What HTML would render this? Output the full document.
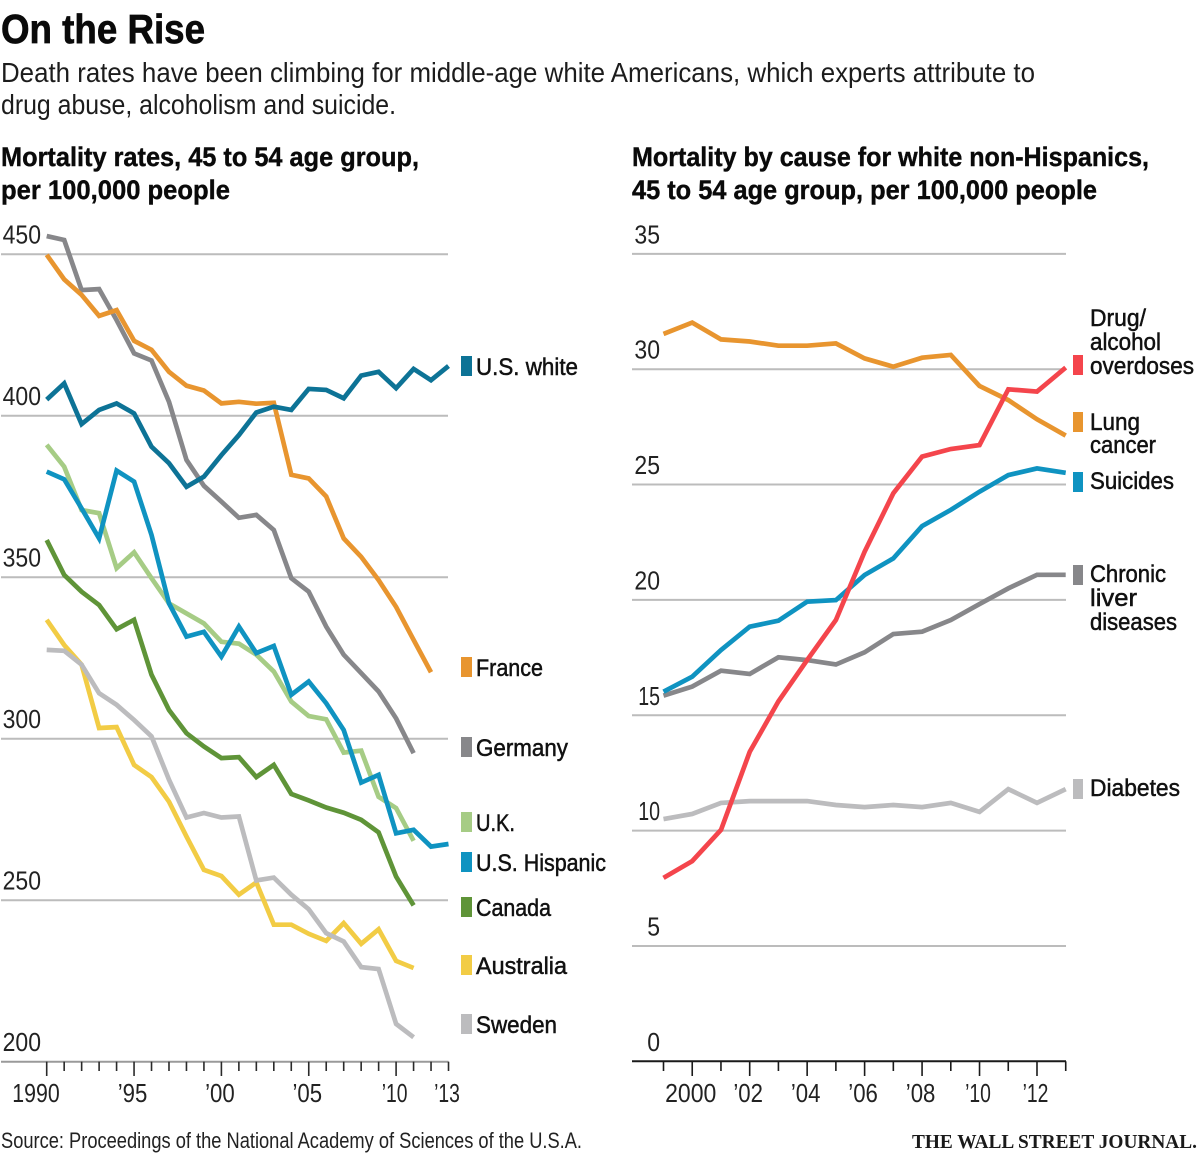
<!DOCTYPE html>
<html lang="en">
<head>
<meta charset="utf-8">
<title>On the Rise</title>
<style>
html,body{margin:0;padding:0;background:#fff;width:1200px;height:1154px;overflow:hidden}
svg{display:block}
text{font-family:"Liberation Sans",sans-serif;fill:#111}
.title{font-size:41px;font-weight:700;fill:#0a0a0a;stroke:#0a0a0a;stroke-width:.7px}
.sub{font-size:28px;fill:#1c1c1c}
.head{font-size:27px;font-weight:700;fill:#0a0a0a;stroke:#0a0a0a;stroke-width:.4px}
.tick{font-size:26px;fill:#222}
.leg{font-size:24px;fill:#111;stroke:#111;stroke-width:.5px}
.src{font-size:22px;fill:#222}
.wsj{font-family:"Liberation Serif",serif;font-size:20px;font-weight:700;fill:#1a1a1a}
</style>
</head>
<body>
<svg id="chart" xmlns="http://www.w3.org/2000/svg" width="1200" height="1154" viewBox="0 0 1200 1154">
  <text class="title" x="1" y="43" textLength="204" lengthAdjust="spacingAndGlyphs">On the Rise</text>
  <text class="sub" x="1" y="82" textLength="1034" lengthAdjust="spacingAndGlyphs">Death rates have been climbing for middle-age white Americans, which experts attribute to</text>
  <text class="sub" x="1" y="114" textLength="395" lengthAdjust="spacingAndGlyphs">drug abuse, alcoholism and suicide.</text>
  <text class="head" x="1" y="166" textLength="418" lengthAdjust="spacingAndGlyphs">Mortality rates, 45 to 54 age group,</text>
  <text class="head" x="1" y="199" textLength="229" lengthAdjust="spacingAndGlyphs">per 100,000 people</text>
  <text class="head" x="632" y="166" textLength="517" lengthAdjust="spacingAndGlyphs">Mortality by cause for white non-Hispanics,</text>
  <text class="head" x="632" y="199" textLength="465" lengthAdjust="spacingAndGlyphs">45 to 54 age group, per 100,000 people</text>

  <g id="left-grid"></g>
  <g id="right-grid"></g>
  <g id="left-lines"></g>
  <g id="right-lines"></g>
  <g id="left-axis"></g>
  <g id="right-axis"></g>

  <g>
    <rect x="461" y="356" width="11" height="20" fill="#0d7396"/>
    <text class="leg" x="476" y="375" textLength="102" lengthAdjust="spacingAndGlyphs">U.S. white</text>
    <rect x="461" y="657" width="11" height="20" fill="#e8952f"/>
    <text class="leg" x="476" y="676" textLength="67" lengthAdjust="spacingAndGlyphs">France</text>
    <rect x="461" y="737" width="11" height="20" fill="#87878a"/>
    <text class="leg" x="476" y="756" textLength="92" lengthAdjust="spacingAndGlyphs">Germany</text>
    <rect x="461" y="812" width="11" height="20" fill="#a6cc85"/>
    <text class="leg" x="476" y="831" textLength="39" lengthAdjust="spacingAndGlyphs">U.K.</text>
    <rect x="461" y="852" width="11" height="20" fill="#0f93c1"/>
    <text class="leg" x="476" y="871" textLength="130" lengthAdjust="spacingAndGlyphs">U.S. Hispanic</text>
    <rect x="461" y="897" width="11" height="20" fill="#5f9438"/>
    <text class="leg" x="476" y="916" textLength="75" lengthAdjust="spacingAndGlyphs">Canada</text>
    <rect x="461" y="955" width="11" height="20" fill="#f2cc45"/>
    <text class="leg" x="476" y="974" textLength="91" lengthAdjust="spacingAndGlyphs">Australia</text>
    <rect x="461" y="1014" width="11" height="20" fill="#bcbcbe"/>
    <text class="leg" x="476" y="1033" textLength="81" lengthAdjust="spacingAndGlyphs">Sweden</text>
  </g>

  <g>
    <rect x="1073" y="355" width="10" height="20" fill="#f4454c"/>
    <text class="leg" x="1090" y="326" textLength="56" lengthAdjust="spacingAndGlyphs">Drug/</text>
    <text class="leg" x="1090" y="350" textLength="71" lengthAdjust="spacingAndGlyphs">alcohol</text>
    <text class="leg" x="1090" y="374" textLength="104" lengthAdjust="spacingAndGlyphs">overdoses</text>
    <rect x="1073" y="412" width="10" height="20" fill="#e8952f"/>
    <text class="leg" x="1090" y="430" textLength="50" lengthAdjust="spacingAndGlyphs">Lung</text>
    <text class="leg" x="1090" y="453" textLength="66" lengthAdjust="spacingAndGlyphs">cancer</text>
    <rect x="1073" y="472" width="10" height="20" fill="#0f93c1"/>
    <text class="leg" x="1090" y="489" textLength="84" lengthAdjust="spacingAndGlyphs">Suicides</text>
    <rect x="1073" y="565" width="10" height="20" fill="#87878a"/>
    <text class="leg" x="1090" y="582" textLength="76" lengthAdjust="spacingAndGlyphs">Chronic</text>
    <text class="leg" x="1090" y="606" textLength="47" lengthAdjust="spacingAndGlyphs">liver</text>
    <text class="leg" x="1090" y="630" textLength="87" lengthAdjust="spacingAndGlyphs">diseases</text>
    <rect x="1073" y="779" width="10" height="20" fill="#bcbcbe"/>
    <text class="leg" x="1090" y="796" textLength="90" lengthAdjust="spacingAndGlyphs">Diabetes</text>
  </g>

  <text class="src" x="1" y="1148" textLength="581" lengthAdjust="spacingAndGlyphs">Source: Proceedings of the National Academy of Sciences of the U.S.A.</text>
  <text class="wsj" x="912" y="1148" textLength="285" lengthAdjust="spacingAndGlyphs">THE WALL STREET JOURNAL.</text>
</svg>
<script>
const leftStartYear = 1990;
const leftYTicks = [200, 250, 300, 350, 400, 450];
const leftXLabels = ["1990", "’95", "’00", "’05", "’10", "’13"];
const leftXLabelYears = [1990, 1995, 2000, 2005, 2010, 2013];
const leftMajorYears = [1990, 1995, 2000, 2005, 2010];

const uk = [391, 384.2, 370.8, 369.8, 352.8, 357.7, 349.7, 341.9, 338.8, 335.7, 330, 329.4, 326, 320.8, 311.5, 307, 306, 295.7, 296.3, 282, 278.5, 268.4];
const usHispanic = [382.7, 380.3, 371.3, 362, 383, 379.6, 363.1, 341.9, 331.6, 333.1, 325.4, 334.7, 326.5, 328.7, 313.6, 317.7, 311, 302.7, 286.4, 288.8, 270.7, 271.8, 266.6, 267.4];
const canada = [361.5, 350.7, 345.5, 341.4, 333.9, 336.8, 319.8, 308.9, 301.7, 297.6, 294, 294.3, 288.1, 291.9, 282.9, 280.9, 278.7, 277.1, 274.9, 271, 257.3, 248.4];
const australia = [336.8, 329, 322.9, 303.3, 303.6, 291.9, 288.1, 280.5, 269.7, 259.4, 257.5, 251.7, 255.5, 242.4, 242.4, 239.6, 237.4, 242.9, 236.5, 241, 231.2, 229];
const sweden = [327.5, 327.2, 322.9, 314.1, 310.5, 305.8, 300.7, 287.3, 275.6, 277, 275.6, 275.9, 256.1, 257, 251.7, 247.2, 239.8, 237.2, 229.3, 228.7, 211.7, 207.6];
const germany = [455.6, 454.4, 438.9, 439.2, 429.6, 419.3, 417.1, 404.3, 386.3, 378.3, 373.4, 368.4, 369.3, 364.6, 349.7, 345.5, 334.7, 326, 320.3, 314.6, 306.3, 295.5];
const france = [449.8, 442.2, 437.4, 430.9, 432.7, 423.2, 420.4, 413.6, 409.3, 407.8, 403.8, 404.3, 403.7, 404, 381.7, 380.6, 375, 362, 356.3, 349.1, 340.8, 330.6, 320.6];
const usWhite = [405, 410, 397.4, 401.8, 403.8, 400.7, 390.4, 385.3, 378, 381.1, 387.8, 394, 401, 402.8, 401.8, 408.3, 408, 405.4, 412.4, 413.6, 408.5, 414.5, 411, 415.4];

const rightStartYear = 1999;
const rightYTicks = [0, 5, 10, 15, 20, 25, 30, 35];
const rightXLabels = ["2000", "’02", "’04", "’06", "’08", "’10", "’12"];
const rightXLabelYears = [2000, 2002, 2004, 2006, 2008, 2010, 2012];

const lungCancer = [31.53, 32.02, 31.29, 31.2, 31.02, 31.02, 31.12, 30.47, 30.11, 30.5, 30.62, 29.27, 28.66, 27.83, 27.12];
const liverDiseases = [15.85, 16.24, 16.93, 16.79, 17.51, 17.39, 17.2, 17.73, 18.52, 18.62, 19.13, 19.82, 20.5, 21.09, 21.09];
const diabetes = [10.5, 10.72, 11.2, 11.28, 11.28, 11.28, 11.11, 11.02, 11.11, 11.02, 11.2, 10.81, 11.8, 11.2, 11.8];
const suicides = [16.02, 16.67, 17.83, 18.84, 19.1, 19.92, 19.99, 21.08, 21.8, 23.2, 23.9, 24.69, 25.41, 25.7, 25.51];
const overdoses = [7.95, 8.68, 10.03, 13.41, 15.6, 17.39, 19.13, 22.09, 24.62, 26.21, 26.54, 26.71, 29.13, 29.03, 30.07];

const SVG_NS = "http://www.w3.org/2000/svg";
const leftX = function (year) { return 46.7 + (year - leftStartYear) * 17.47; };
const leftY = function (v) { return 1061.7 - (v - 200) * 3.23; };
const rightX = function (year) { return 663.5 + (year - rightStartYear) * 28.73; };
const rightY = function (v) { return 1061.3 - v * 23.07; };

function drawLine(parent, values, xFn, yFn, startYear, color, name) {
  const path = document.createElementNS(SVG_NS, "polyline");
  
  
  const pts = values.map(function (v, i) {
    return xFn(startYear + i).toFixed(1) + "," + yFn(v).toFixed(1);
  }).join(" ");
  path.setAttribute("points", pts);
  path.setAttribute("fill", "none");
  path.setAttribute("stroke", color);
  path.setAttribute("stroke-width", "4.7");
  path.setAttribute("stroke-linejoin", "miter");
  path.setAttribute("stroke-miterlimit", "3");
  parent.appendChild(path);
}

function rule(parent, x1, y1, x2, y2, color, width, name) {
  const l = document.createElementNS(SVG_NS, "line");
  
  
  l.setAttribute("x1", x1);
  l.setAttribute("y1", y1);
  l.setAttribute("x2", x2);
  l.setAttribute("y2", y2);
  l.setAttribute("stroke", color);
  l.setAttribute("stroke-width", width);
  parent.appendChild(l);
}

function labelWidth(str) {
  let w = 0;
  for (const ch of str) {
    w += ch === "’" ? 4 : (ch === "1" ? 9 : 12.8);
  }
  return w;
}

function label(parent, str, x, y, anchor, name) {
  const t = document.createElementNS(SVG_NS, "text");
  
  
  t.setAttribute("class", "tick");
  t.setAttribute("x", x);
  t.setAttribute("y", y);
  t.setAttribute("text-anchor", anchor);
  t.setAttribute("textLength", labelWidth(str));
  t.setAttribute("lengthAdjust", "spacingAndGlyphs");
  t.textContent = str;
  parent.appendChild(t);
}

const leftGrid = document.getElementById("left-grid");
leftYTicks.forEach(function (v) {
  if (v !== 200) rule(leftGrid, 1, leftY(v), 448, leftY(v), "#bcbcbc", 2, "y-gridline-" + v);
  label(leftGrid, String(v), 41, leftY(v) - 10.5, "end", "y-tick-label-" + v);
});
const rightGrid = document.getElementById("right-grid");
rightYTicks.forEach(function (v) {
  if (v !== 0) rule(rightGrid, 632, rightY(v), 1066, rightY(v), "#bcbcbc", 2, "y-gridline-right-" + v);
  label(rightGrid, String(v), 660, rightY(v) - 10.5, "end", "y-tick-label-right-" + v);
});

const leftLines = document.getElementById("left-lines");
drawLine(leftLines, uk, leftX, leftY, leftStartYear, "#a6cc85", "line-uk");
drawLine(leftLines, usHispanic, leftX, leftY, leftStartYear, "#0f93c1", "line-us-hispanic");
drawLine(leftLines, canada, leftX, leftY, leftStartYear, "#5f9438", "line-canada");
drawLine(leftLines, australia, leftX, leftY, leftStartYear, "#f2cc45", "line-australia");
drawLine(leftLines, sweden, leftX, leftY, leftStartYear, "#bcbcbe", "line-sweden");
drawLine(leftLines, germany, leftX, leftY, leftStartYear, "#87878a", "line-germany");
drawLine(leftLines, france, leftX, leftY, leftStartYear, "#e8952f", "line-france");
drawLine(leftLines, usWhite, leftX, leftY, leftStartYear, "#0d7396", "line-us-white");

const rightLines = document.getElementById("right-lines");
drawLine(rightLines, lungCancer, rightX, rightY, rightStartYear, "#e8952f", "line-lung-cancer");
drawLine(rightLines, liverDiseases, rightX, rightY, rightStartYear, "#87878a", "line-liver-diseases");
drawLine(rightLines, diabetes, rightX, rightY, rightStartYear, "#bcbcbe", "line-diabetes");
drawLine(rightLines, suicides, rightX, rightY, rightStartYear, "#0f93c1", "line-suicides");
drawLine(rightLines, overdoses, rightX, rightY, rightStartYear, "#f4454c", "line-overdoses");

const leftAxis = document.getElementById("left-axis");
rule(leftAxis, 1, 1061.7, 448.5, 1061.7, "#9a9a9a", 2, "left-axis-line");
for (let y = leftStartYear; y <= 2013; y++) {
  const major = leftMajorYears.indexOf(y) >= 0;
  rule(leftAxis, leftX(y), 1061.7, leftX(y), major ? 1076 : 1071, "#2a2a2a", 1.6, "x-tick-" + y);
}
leftXLabels.forEach(function (s, i) {
  const yr = leftXLabelYears[i];
  const shift = yr === leftStartYear ? -10.7 : -1.5;
  label(leftAxis, s, leftX(yr) + shift, 1102, "middle", "x-tick-label-" + yr);
});

const rightAxis = document.getElementById("right-axis");
rule(rightAxis, 632, 1061.3, 1066, 1061.3, "#1a1a1a", 2, "right-axis-line");
for (let y = rightStartYear; y <= 2013; y++) {
  const major = y % 2 === 0;
  rule(rightAxis, rightX(y), 1061.3, rightX(y), major ? 1076 : 1071, "#1a1a1a", 1.6, "x-tick-right-" + y);
}
rightXLabels.forEach(function (s, i) {
  const yr = rightXLabelYears[i];
  label(rightAxis, s, rightX(yr) - 1.5, 1102, "middle", "x-tick-label-right-" + yr);
});
</script>
</body>
</html>
